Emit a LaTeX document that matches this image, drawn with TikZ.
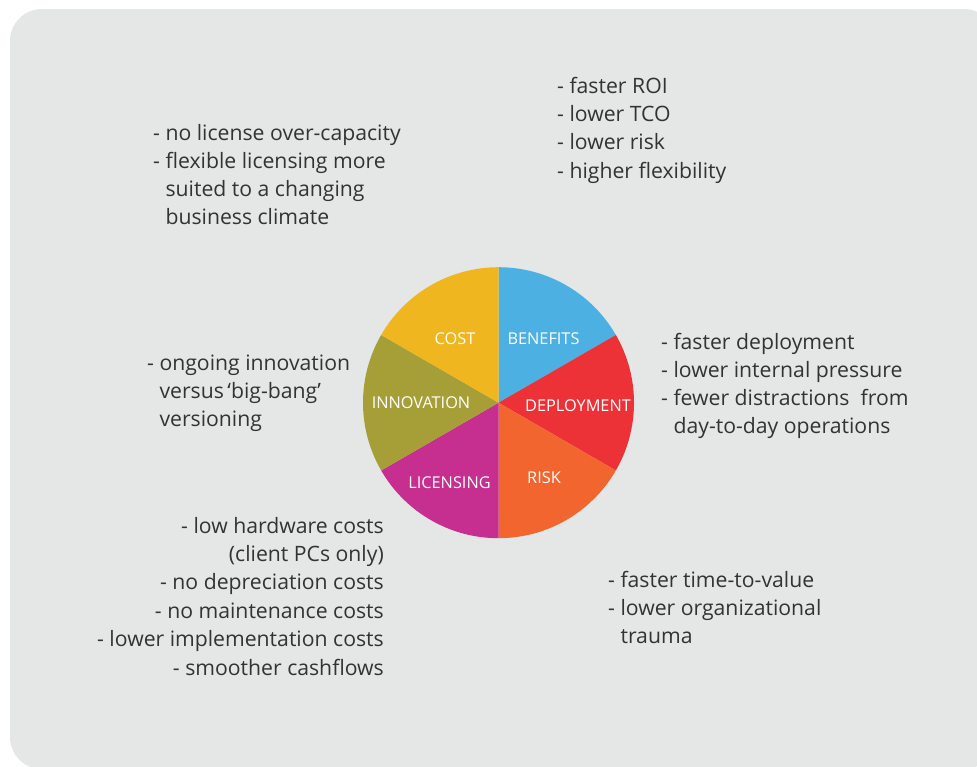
\documentclass[tikz,border=0pt]{standalone}
\usepackage{fontspec}
\setmainfont{Open Sans}
\definecolor{bg}{HTML}{E5E6E6}
\definecolor{txt}{HTML}{333333}
\definecolor{cbenefits}{HTML}{4DB0E2}
\definecolor{cdeploy}{HTML}{EC3237}
\definecolor{crisk}{HTML}{F2652F}
\definecolor{clicense}{HTML}{C62E8F}
\definecolor{cinnov}{HTML}{A69F38}
\definecolor{ccost}{HTML}{EFB61F}
\begin{document}
\begin{tikzpicture}[x=1pt,y=-1pt,
  item/.style={inner sep=0pt, text=txt, font=\fontsize{21.2}{24}\selectfont, anchor=base west},
  itemr/.style={item, anchor=base east},
  slicelbl/.style={inner sep=0pt, text=white, font=\fontsize{16.3}{20}\selectfont, anchor=base}]
\useasboundingbox (0,0) rectangle (977,766);
\fill[white] (0,0) rectangle (977,766);
\fill[bg, rounded corners=32pt] (10,9) rectangle (996,769);
\coordinate (pc) at (498.5,402.7);
\begin{scope}[shift={(pc)}, x=1pt, y=1pt]
\fill[cbenefits] (0,0) -- (90:135.5) arc[start angle=90, end angle=30, radius=135.5] -- cycle;
\fill[cdeploy] (0,0) -- (30:135.5) arc[start angle=30, end angle=-30, radius=135.5] -- cycle;
\fill[crisk] (0,0) -- (-30:135.5) arc[start angle=-30, end angle=-90, radius=135.5] -- cycle;
\fill[clicense] (0,0) -- (-90:135.5) arc[start angle=-90, end angle=-150, radius=135.5] -- cycle;
\fill[cinnov] (0,0) -- (210:135.5) arc[start angle=210, end angle=150, radius=135.5] -- cycle;
\fill[ccost] (0,0) -- (150:135.5) arc[start angle=150, end angle=90, radius=135.5] -- cycle;
\end{scope}
% slice labels
\node[slicelbl] (lcost) at (455,344) {COST};
\node[slicelbl] (lben) at (543.5,344) {BENEFITS};
\node[slicelbl] (ldep) at (578,411) {DEPLOYMENT};
\node[slicelbl] (linn) at (421,408) {INNOVATION};
\node[slicelbl] (llic) at (449.5,488) {LICENSING};
\node[slicelbl] (lrisk) at (544,483) {RISK};
% cost
\node[item] (c1) at (153,140) {- no license over-capacity};
\node[item] (c2) at (153,168.2) {- flexible licensing more};
\node[item] (c3) at (153,196.4) {\hphantom{- }suited to a changing};
\node[item] (c4) at (153,224.6) {\hphantom{- }business climate};
% benefits
\node[item] (b1) at (557,93.5) {- faster ROI};
\node[item] (b2) at (557,121.7) {- lower TCO};
\node[item] (b3) at (557,149.9) {- lower risk};
\node[item] (b4) at (557,178.1) {- higher flexibility};
% deployment
\node[item] (d1) at (661,349) {- faster deployment};
\node[item] (d2) at (661,377.2) {- lower internal pressure};
\node[item] (d3) at (661,405.4) {- fewer distractions\ \ from};
\node[item] (d4) at (661,433.6) {\hphantom{- }day-to-day operations};
% innovation
\node[item] (i1) at (147,370) {- ongoing innovation};
\node[item] (i2) at (147,398.2) {\hphantom{- }versus\,‘big-bang’};
\node[item] (i3) at (147,426.4) {\hphantom{- }versioning};
% licensing
\node[itemr] (k1) at (384,533) {- low hardware costs};
\node[itemr] (k2) at (384,561.4) {(client PCs only)};
\node[itemr] (k3) at (384,589.8) {- no depreciation costs};
\node[itemr] (k4) at (384,618.2) {- no maintenance costs};
\node[itemr] (k5) at (384,646.6) {- lower implementation costs};
\node[itemr] (k6) at (384,675) {- smoother cashflows};
% risk
\node[item] (r1) at (608,587) {- faster time-to-value};
\node[item] (r2) at (608,615.2) {- lower organizational};
\node[item] (r3) at (608,643.4) {\hphantom{- }trauma};
\end{tikzpicture}
\end{document}
